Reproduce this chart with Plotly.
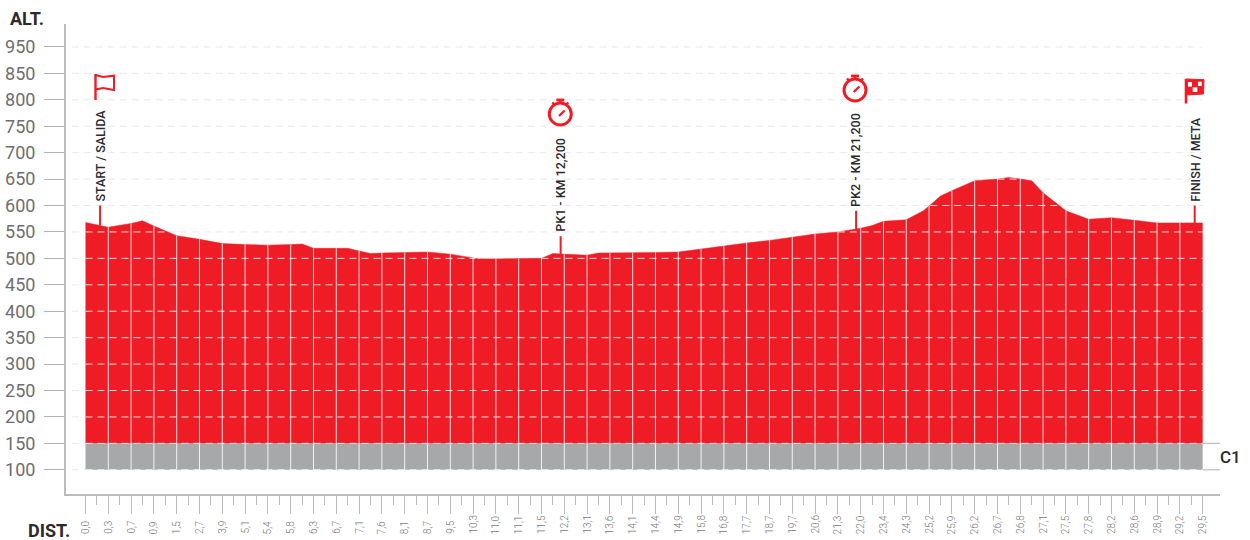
import numpy as np
import plotly.graph_objects as go

# Kilometre labels of the major ticks
dist_labels = ["0,0","0,3","0,7","0,9","1,5","2,7","3,9","5,1","5,4","5,8","6,3","6,7","7,1","7,6","8,1","8,7","9,5",
               "10,3","11,0","11,1","11,5","12,2","13,1","13,6","14,1","14,4","14,9","15,8","16,8","17,7","18,7",
               "19,7","20,6","21,3","22,0","23,4","24,3","25,2","25,9","26,2","26,7","26,8","27,1","27,5","27,8",
               "28,2","28,6","28,9","29,2","29,5"]
# Profile vertices: position in tick units, altitude
profile_pos = [0,1,2,2.5,3,4,5,6,7,8,9,9.5,10,11,11.5,12,12.5,13,14,15,16,17,17.25,18,19,20,20.5,21,22,22.5,23,24,25,26,
               27,28,29,30,31,32,33,34,34.5,35,36,36.75,37,37.5,38,39,40,40.5,41,41.5,42,43,44,45,46,47,48,49]
profile_alt = [568,559,566,571,561,543,536,528,526,525,526,527,519,519,519,514,509,510,511,512,508,501,499,499,499,500,
               509,508,506,510,510,511,511,512,518,524,529,534,540,546,550,557,562,570,573,590,599,618,628,647,650,653,
               650,647,624,590,574,577,572,567,567,567]
# Left axis: position values and the labels printed on them (the reference skips 900)
alt_levels = [100,150,200,250,300,350,400,450,500,550,600,650,700,750,800,850,900]
alt_labels = ["100","150","200","250","300","350","400","450","500","550","600","650","700","750","800","850","950"]
# Callouts
call_labels = ["START / SALIDA","PK1 - KM 12,200","PK2 - KM 21,200","FINISH / META"]
call_pos = [0.64,20.84,33.8,48.65]
call_top = [600,542,590,600]
base_alt = 100
c1_alt = 150
x_first = 0
x_last = 49

RED = "#ef1c25"; GREY = "#a7a8aa"; AXIS = "#bcbcbe"; FONT = "Roboto"
W, H = 1250, 540
ML, MR, MT, MB = 66, 30, 24, 46
XR = [-0.855, 49.76]; YR = [54.2, 943.4]
tick_idx = list(range(len(dist_labels)))

def P(x, y):
    """pixel -> paper coordinates for the icons"""
    return (x - ML) / (W - ML - MR), (H - MB - y) / (H - MT - MB)

def path(points, close=False):
    parts = []
    for k, (x, y) in enumerate(points):
        a, b = P(x, y)
        parts.append(("M" if k == 0 else "L") + f"{a:.5f},{b:.5f}")
    return " ".join(parts) + (" Z" if close else "")

def inside_runs(level):
    xs = np.linspace(x_first, x_last, 981)
    ok = np.interp(xs, profile_pos, profile_alt) >= level
    rx, ry = [], []
    k = 0
    while k < len(xs):
        if ok[k]:
            j = k
            while j + 1 < len(xs) and ok[j + 1]:
                j += 1
            rx += [float(xs[k]), float(xs[j]), None]
            ry += [level, level, None]
            k = j + 1
        else:
            k += 1
    return rx, ry

fig = go.Figure()
line0 = dict(width=0)
# pale dashed guide lines
gx, gy = [], []
for lv in alt_levels:
    gx += [-0.6, x_last, None]; gy += [lv, lv, None]
fig.add_trace(go.Scatter(x=gx, y=gy, mode="lines", line=dict(color="#e9e9ea", width=1, dash="7px,5px"), hoverinfo="skip"))
# grey band and red profile
fig.add_trace(go.Scatter(x=[x_first, x_last], y=[base_alt, base_alt], mode="lines", line=line0, hoverinfo="skip"))
fig.add_trace(go.Scatter(x=[x_first, x_last], y=[c1_alt, c1_alt], mode="lines", line=line0, fill="tonexty", fillcolor=GREY, hoverinfo="skip"))
fig.add_trace(go.Scatter(x=profile_pos, y=profile_alt, mode="lines", line=dict(color=RED, width=0.5), fill="tonexty", fillcolor=RED))
# white separators at the major ticks
sx, sy = [], []
for i in tick_idx[1:-1]:
    sx += [i, i, None]; sy += [base_alt, float(np.interp(i, profile_pos, profile_alt)), None]
fig.add_trace(go.Scatter(x=sx, y=sy, mode="lines", line=dict(color="rgba(255,255,255,0.85)", width=1), hoverinfo="skip"))
# white dashes inside the filled area
wx, wy = [], []
for lv in alt_levels:
    a, b = inside_runs(lv)
    wx += a; wy += b
fig.add_trace(go.Scatter(x=wx, y=wy, mode="lines", line=dict(color="rgba(255,255,255,0.85)", width=1, dash="7px,5px"), hoverinfo="skip"))
# C1 band marks on the right
fig.add_trace(go.Scatter(x=[x_last, XR[1], None, x_last, XR[1]], y=[c1_alt, c1_alt, None, base_alt, base_alt], mode="lines",
                         line=dict(color=AXIS, width=1.2), hoverinfo="skip", cliponaxis=False))
# callout stems
cx, cy = [], []
for p, t in zip(call_pos, call_top):
    cx += [p, p, None]; cy += [t, float(np.interp(p, profile_pos, profile_alt)), None]
fig.add_trace(go.Scatter(x=cx, y=cy, mode="lines", line=dict(color=RED, width=2), hoverinfo="skip"))

ann = []
for lab, p, t in zip(call_labels, call_pos, call_top):
    ann.append(dict(x=p, y=t, text=lab, textangle=-90, showarrow=False, xanchor="center", yanchor="bottom", yshift=2,
                    font=dict(family=FONT, size=12.5, weight=500, color="#2b2b2d")))
for i, lab in zip(tick_idx, dist_labels):
    ann.append(dict(x=i, xref="x", yref="paper", y=P(0, 536)[1], text=lab, textangle=-90, showarrow=False,
                    xanchor="center", yanchor="bottom", font=dict(family=FONT, size=10, weight=300, color="#77787b")))
ann.append(dict(xref="paper", yref="paper", x=P(7.5, 0)[0], y=P(0, 19)[1], text="<b>ALT.</b>", showarrow=False, xanchor="left",
                yanchor="middle", font=dict(family=FONT, size=18, color="#2b2b2d")))
ann.append(dict(xref="paper", yref="paper", x=P(26, 0)[0], y=P(0, 530)[1], text="<b>DIST.</b>", showarrow=False, xanchor="left",
                yanchor="middle", font=dict(family=FONT, size=18, color="#2b2b2d")))
ann.append(dict(xref="paper", yref="y", x=P(1218, 0)[0], y=125, text="C1", showarrow=False, xanchor="left", yanchor="middle",
                font=dict(family=FONT, size=17, weight=500, color="#2b2b2d")))

shapes = []
def stroke(pts, w=2.4):
    shapes.append(dict(type="path", xref="paper", yref="paper", path=path(pts), line=dict(color=RED, width=w)))
def watch(cxp, cyp):
    r = 11
    a0, b0 = P(cxp - r, cyp + r); a1, b1 = P(cxp + r, cyp - r)
    shapes.append(dict(type="circle", xref="paper", yref="paper", x0=a0, y0=b0, x1=a1, y1=b1, line=dict(color=RED, width=3)))
    stroke([(cxp - 4, cyp - 14), (cxp + 4, cyp - 14)], 2.8)
    stroke([(cxp, cyp - 14), (cxp, cyp - 11)], 2.4)
    stroke([(cxp - 8, cyp - 11.5), (cxp - 6, cyp - 9.5)], 2.4)
    stroke([(cxp + 8, cyp - 11.5), (cxp + 6, cyp - 9.5)], 2.4)
    stroke([(cxp - 1.3, cyp + 2), (cxp + 4.4, cyp - 3.5)], 2.4)
# start flag
stroke([(95.5, 74), (95.5, 100)], 2.4)
stroke([(95.5, 75), (103, 77), (114, 75.7), (114, 90), (103, 88), (95.5, 89.5)], 2)
watch(560.3, 114)
watch(855, 90)
# finish flag
stroke([(1186, 79), (1186, 103.5)], 2.6)
shapes.append(dict(type="path", xref="paper", yref="paper", fillcolor=RED, line=dict(color=RED, width=1),
                   path=path([(1186, 79), (1204, 79.7), (1203.5, 94), (1186, 95)], True)))
for sq in [[(1188, 82), (1192, 82), (1192, 86.7), (1188, 86.7)],
           [(1198, 81.7), (1201.7, 81.7), (1201.7, 86), (1198, 86)],
           [(1192.7, 87.3), (1197.3, 87.3), (1197.3, 92), (1192.7, 92)]]:
    shapes.append(dict(type="path", xref="paper", yref="paper", fillcolor="white", line=dict(width=0), path=path(sq, True)))

fig.update_layout(
    width=W, height=H, margin=dict(l=ML, r=MR, t=MT, b=MB), showlegend=False,
    paper_bgcolor="white", plot_bgcolor="white", annotations=ann, shapes=shapes,
    xaxis=dict(range=XR, showgrid=False, zeroline=False, showline=True, linecolor=AXIS, linewidth=2, automargin=False,
               tickmode="array", tickvals=tick_idx, showticklabels=False, ticks="outside", ticklen=18, tickcolor=AXIS, tickwidth=1.3,
               minor=dict(tickmode="array", tickvals=[i + 0.5 for i in tick_idx[:-1]], ticks="outside", ticklen=9, tickcolor=AXIS, tickwidth=1.1, showgrid=False)),
    yaxis=dict(range=YR, showgrid=False, zeroline=False, showline=True, linecolor=AXIS, linewidth=2, automargin=False,
               tickmode="array", tickvals=alt_levels, ticktext=alt_labels, ticks="outside", ticklen=20, tickcolor="#b0b1b3", tickwidth=1.3,
               ticklabelstandoff=5, tickfont=dict(family=FONT, size=18, color="#6d6e71")),
)
fig.write_html("out.html", config=dict(displayModeBar=False), post_script="document.body.style.margin='0';")
